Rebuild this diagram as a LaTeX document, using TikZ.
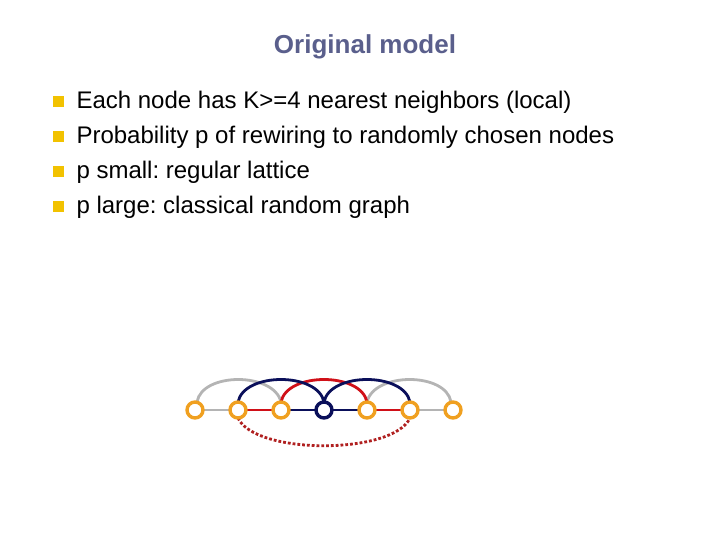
\documentclass[tikz,border=0pt]{standalone}
\usepackage{fontspec}
\setmainfont{Liberation Sans}
\frenchspacing
\begin{document}
\begin{tikzpicture}[x=1pt,y=-1pt,
  nd/.style={circle,draw=#1,line width=3.4pt,fill=white,minimum size=16pt,inner sep=0pt},
  ed/.style={line width=2.8pt,draw=#1},
  bul/.style={fill=bulc,minimum size=11pt,inner sep=0pt},
  txt/.style={anchor=west,font=\fontsize{24}{28}\selectfont}]
\definecolor{org}{HTML}{F0A020}
\definecolor{nv}{HTML}{0A0F5A}
\definecolor{rd}{HTML}{D01018}
\definecolor{gy}{HTML}{B4B4B4}
\definecolor{drd}{HTML}{B02020}
\definecolor{bulc}{HTML}{F2C200}
\definecolor{ttl}{HTML}{5A5F8C}
\useasboundingbox (0,0) rectangle (720,540);
\node[font=\bfseries\fontsize{26}{30}\selectfont,text=ttl] (t) at (365,47) {Original model};
\foreach \i/\y/\s in {1/102/{Each node has K>=4 nearest neighbors (local)},
  2/137/{Probability p of rewiring to randomly chosen nodes},
  3/172/{p small: regular lattice},
  4/207/{p large: classical random graph}}{
  \node[bul] (b\i) at (58,\y) {};
  \node[txt] (l\i) at (73,\y) {\s};
}
\foreach \i/\x in {1/195,2/238,3/281,4/324,5/367,6/410,7/453}
  \coordinate (c\i) at (\x,410);
\draw[ed=gy] (c1)--(c2); \draw[ed=rd] (c2)--(c3); \draw[ed=nv] (c3)--(c4);
\draw[ed=nv] (c4)--(c5); \draw[ed=rd] (c5)--(c6); \draw[ed=gy] (c6)--(c7);
\draw[ed=gy] (197,402) .. controls (202,372) and (274,372) .. (281,402);
\draw[ed=gy] (367,402) .. controls (374,372) and (446,372) .. (451,402);
\draw[ed=rd] (281,402) .. controls (287,372) and (361,372) .. (367,402);
\draw[ed=nv] (238,402) .. controls (244,372) and (318,372) .. (324,402);
\draw[ed=nv] (324,402) .. controls (330,372) and (404,372) .. (410,402);
\draw[drd,line width=2.8pt,dotted] (238,418) .. controls (255,455) and (393,455) .. (410,418);
\foreach \i/\c in {1/org,2/org,3/org,4/nv,5/org,6/org,7/org}
  \node[nd=\c] (n\i) at (c\i) {};
\end{tikzpicture}
\end{document}
